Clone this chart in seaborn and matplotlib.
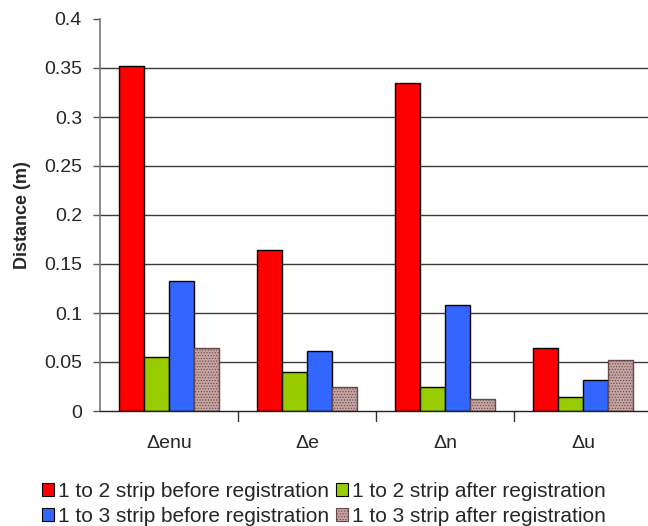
import matplotlib
matplotlib.use("Agg")
import matplotlib.pyplot as plt
from matplotlib.patches import Patch
import seaborn as sns
import pandas as pd

categories = ["\u0394enu", "\u0394e", "\u0394n", "\u0394u"]
series_names = [
    "1 to 2 strip before registration",
    "1 to 2 strip after registration",
    "1 to 3 strip before registration",
    "1 to 3 strip after registration",
]
before_12 = [0.352, 0.164, 0.335, 0.064]
after_12 = [0.055, 0.040, 0.025, 0.014]
before_13 = [0.133, 0.061, 0.108, 0.032]
after_13 = [0.064, 0.025, 0.012, 0.052]
y_ticks = [0, 0.05, 0.1, 0.15, 0.2, 0.25, 0.3, 0.35, 0.4]
y_tick_labels = ["0", "0.05", "0.1", "0.15", "0.2", "0.25", "0.3", "0.35", "0.4"]

colors = ["#ff0000", "#99cc00", "#3366ff", "#c4a3a3"]

rows = []
for name, vals in zip(series_names, [before_12, after_12, before_13, after_13]):
    for cat, v in zip(categories, vals):
        rows.append({"Category": cat, "Series": name, "Distance": v})
df = pd.DataFrame(rows)

sns.set_style("white")
plt.rcParams["font.family"] = ["Liberation Sans", "DejaVu Sans"]
plt.rcParams["hatch.linewidth"] = 0.5

fig = plt.figure(figsize=(6.48, 5.26), dpi=100)
ax = fig.add_axes([100 / 648, 1 - 411 / 526, 552 / 648, 392 / 526])

sns.barplot(
    data=df, x="Category", y="Distance", hue="Series",
    hue_order=series_names, order=categories,
    palette=colors, width=0.73, gap=0, saturation=1,
    edgecolor="black", linewidth=1.0, legend=False, ax=ax, zorder=3,
)

# dithered look for the last series
for bar in ax.containers[3]:
    bar.set_hatch("......")
    bar.set_edgecolor("#6a4848")

ax.set_ylim(0, 0.4)
ax.set_xlim(-0.5, 3.5)
ax.set_yticks(y_ticks)
ax.set_yticklabels(y_tick_labels)
for y in y_ticks[1:-1]:
    ax.axhline(y, color="#3a3a3a", linewidth=1.0, zorder=1)

ax.set_xlabel("")
ax.set_ylabel("Distance (m)", fontsize=13, fontweight="bold", labelpad=9)
ax.tick_params(axis="y", labelsize=14, length=5, width=1, color="#555555", pad=8, left=True)
ax.tick_params(axis="x", labelsize=14, length=0, pad=17)

for side in ["top", "right"]:
    ax.spines[side].set_visible(False)
ax.spines["left"].set_color("#777777")
ax.spines["left"].set_linewidth(1.2)
ax.spines["bottom"].set_color("#222222")
ax.spines["bottom"].set_linewidth(1.0)
ax.spines["bottom"].set_zorder(4)

# category separator ticks below the axis
for xpos in [0.5, 1.5, 2.5]:
    ax.plot([xpos, xpos], [0, -0.01], color="#333333", linewidth=1, clip_on=False)

handles = [Patch(facecolor=c, edgecolor="black", linewidth=0.8) for c in colors]
handles[3] = Patch(facecolor=colors[3], edgecolor="#6a4848", hatch="......", linewidth=0.8)
# legend fills column-wise, so order entries to read row by row
order = [0, 2, 1, 3]
fig.legend(
    [handles[i] for i in order], [series_names[i] for i in order],
    loc="lower center", ncol=2, frameon=False,
    bbox_to_anchor=(0.5, -0.036), fontsize=15, handlelength=0.6, handleheight=0.6,
    handletextpad=0.2, columnspacing=0.3, labelspacing=0.3,
)

fig.savefig("out.png", dpi=100)
